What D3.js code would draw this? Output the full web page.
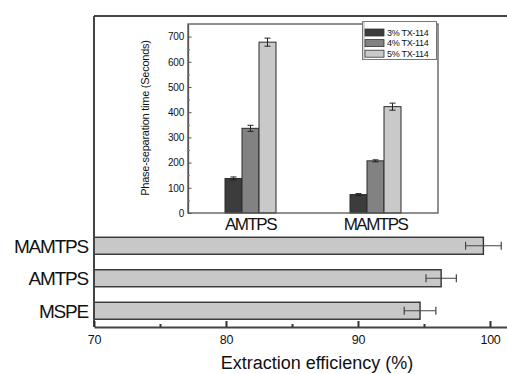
<!DOCTYPE html>
<html><head><meta charset="utf-8">
<script src="https://cdn.jsdelivr.net/npm/d3@7"></script>
<style>
html,body{margin:0;padding:0;background:#fff;}
svg{display:block;font-family:"Liberation Sans",Arial,sans-serif;}
</style></head>
<body><svg id="c" width="507" height="374"></svg>
<script>
// ---- Main chart data (horizontal bars) ----
const mainCategories = ["MSPE", "AMTPS", "MAMTPS"];
const mainValues = [94.7, 96.3, 99.5];
const mainErrors = [1.2, 1.15, 1.35];
const mainTicks = [70, 80, 90, 100];
const mainMinorTicks = [75, 85, 95];
const mainXLabel = "Extraction efficiency (%)";

// ---- Inset data (grouped vertical bars) ----
const insetGroups = ["AMTPS", "MAMTPS"];
const insetSeries = ["3% TX-114", "4% TX-114", "5% TX-114"];
const insetValues3 = [137, 73];
const insetValues4 = [336, 207];
const insetValues5 = [678, 422];
const insetErr3 = [6, 4];
const insetErr4 = [12, 4];
const insetErr5 = [16, 14];
const insetTicks = [0, 100, 200, 300, 400, 500, 600, 700];
const insetMinorTicks = [50, 150, 250, 350, 450, 550, 650];
const insetYLabel = "Phase-separation time (Seconds)";

const insetColors = ["#3c3c3c", "#828282", "#c9c9c9"];
const txt = "#111";
const svg = d3.select("#c");

// ===== Main chart =====
const x = d3.scaleLinear().domain([70, 102]).range([94, 516.4]);
const y = d3.scaleLinear().domain([0.5, 10.07]).range([327, 16]);
const barH = 17;

const mg = svg.append("g");
mainCategories.forEach((c, i) => {
  const cy = y(i + 1);
  mg.append("rect")
    .attr("x", x(70)).attr("y", cy - barH / 2)
    .attr("width", x(mainValues[i]) - x(70)).attr("height", barH)
    .attr("fill", "#c8c8c8").attr("stroke", "#333").attr("stroke-width", 1.4);
  const lo = x(mainValues[i] - mainErrors[i]), hi = x(mainValues[i] + mainErrors[i]);
  mg.append("line").attr("x1", lo).attr("x2", hi).attr("y1", cy).attr("y2", cy)
    .attr("stroke", "#444").attr("stroke-width", 1);
  [lo, hi].forEach(v => mg.append("line").attr("x1", v).attr("x2", v)
    .attr("y1", cy - 4).attr("y2", cy + 4).attr("stroke", "#444").attr("stroke-width", 1.2));
  mg.append("text").attr("x", 88).attr("y", cy).attr("dy", "0.36em")
    .attr("text-anchor", "end").attr("font-size", 19).attr("letter-spacing", "-1.2px")
    .attr("fill", txt).text(c);
});

svg.append("line").attr("x1", 94).attr("x2", 94).attr("y1", y(10.07)).attr("y2", 327)
  .attr("stroke", "#444").attr("stroke-width", 2);
svg.append("line").attr("x1", 94).attr("x2", 516).attr("y1", y(10.07)).attr("y2", y(10.07))
  .attr("stroke", "#444").attr("stroke-width", 2);

const xAxis = svg.append("g").attr("transform", "translate(0,327)")
  .call(d3.axisBottom(x).tickValues(mainTicks).tickSize(-6).tickPadding(8).tickSizeOuter(0));
xAxis.select(".domain").attr("stroke", "#444").attr("stroke-width", 2);
xAxis.selectAll(".tick line").attr("stroke", "#333").attr("stroke-width", 2);
xAxis.selectAll("text").attr("font-size", 12.5).attr("fill", txt)
  .attr("font-family", "'Liberation Sans',Arial,sans-serif").attr("letter-spacing", "-0.3px");
const xMinor = svg.append("g").attr("transform", "translate(0,327)")
  .call(d3.axisBottom(x).tickValues(mainMinorTicks).tickSize(-3).tickFormat(""));
xMinor.select(".domain").remove();
xMinor.selectAll(".tick line").attr("stroke", "#333").attr("stroke-width", 2);

svg.append("text").attr("x", 317).attr("y", 369).attr("text-anchor", "middle")
  .attr("font-size", 18).attr("fill", txt).text(mainXLabel);

// ===== Inset =====
const ix0 = d3.scaleBand().domain(insetGroups).range([188, 438]).paddingInner(0.592).paddingOuter(0.296);
const ix1 = d3.scaleBand().domain(insetSeries).range([0, ix0.bandwidth()]);
const iy = d3.scaleLinear().domain([0, 750]).range([213, 24]);

const ig = svg.append("g");
ig.append("rect").attr("x", 188).attr("y", 24).attr("width", 250).attr("height", 189)
  .attr("fill", "#fff").attr("stroke", "none");

const insetVals = [insetValues3, insetValues4, insetValues5];
const insetErrs = [insetErr3, insetErr4, insetErr5];
insetGroups.forEach((g, gi) => {
  insetSeries.forEach((s, si) => {
    const v = insetVals[si][gi], e = insetErrs[si][gi];
    const bx = ix0(g) + ix1(s), bw = ix1.bandwidth();
    ig.append("rect").attr("x", bx).attr("y", iy(v)).attr("width", bw)
      .attr("height", iy(0) - iy(v)).attr("fill", insetColors[si])
      .attr("stroke", "#2a2a2a").attr("stroke-width", 1);
    const cx = bx + bw / 2;
    ig.append("line").attr("x1", cx).attr("x2", cx).attr("y1", iy(v - e)).attr("y2", iy(v + e))
      .attr("stroke", "#222").attr("stroke-width", 1);
    [v - e, v + e].forEach(t => ig.append("line").attr("x1", cx - 3).attr("x2", cx + 3)
      .attr("y1", iy(t)).attr("y2", iy(t)).attr("stroke", "#222").attr("stroke-width", 1));
  });
});

ig.append("rect").attr("x", 188).attr("y", 24).attr("width", 250).attr("height", 189)
  .attr("fill", "none").attr("stroke", "#555").attr("stroke-width", 1.3);

const iyAxis = ig.append("g").attr("transform", "translate(188,0)")
  .call(d3.axisLeft(iy).tickValues(insetTicks).tickSize(-3.5).tickPadding(4).tickSizeOuter(0));
iyAxis.select(".domain").attr("stroke", "#555").attr("stroke-width", 1.3);
iyAxis.selectAll(".tick line").attr("stroke", "#555");
iyAxis.selectAll("text").attr("font-size", 10).attr("fill", txt)
  .attr("font-family", "'Liberation Sans',Arial,sans-serif").attr("letter-spacing", "-0.2px");
const iyMinor = ig.append("g").attr("transform", "translate(188,0)")
  .call(d3.axisLeft(iy).tickValues(insetMinorTicks).tickSize(-2).tickFormat(""));
iyMinor.select(".domain").remove();
iyMinor.selectAll(".tick line").attr("stroke", "#777");

const ixAxis = ig.append("g").attr("transform", "translate(0,213)")
  .call(d3.axisBottom(ix0).tickSize(0).tickPadding(5));
ixAxis.select(".domain").remove();
ixAxis.selectAll("text").attr("font-size", 17).attr("fill", txt).attr("letter-spacing", "-1.5px")
  .attr("font-family", "'Liberation Sans',Arial,sans-serif");

ig.append("text").attr("transform", "translate(149,118) rotate(-90)")
  .attr("text-anchor", "middle").attr("font-size", 11).attr("letter-spacing", "-0.25px")
  .attr("fill", txt).text(insetYLabel);

const lg = ig.append("g");
lg.append("rect").attr("x", 362.5).attr("y", 21.5).attr("width", 74).attr("height", 38)
  .attr("fill", "#fff").attr("stroke", "#777").attr("stroke-width", 1);
lg.append("line").attr("x1", 364).attr("x2", 364).attr("y1", 21.5).attr("y2", 59.5)
  .attr("stroke", "#aaa").attr("stroke-width", 1);
insetSeries.forEach((s, i) => {
  const ry = 29 + i * 10.6;
  lg.append("rect").attr("x", 365).attr("y", ry).attr("width", 19).attr("height", 7)
    .attr("fill", insetColors[i]).attr("stroke", "#333").attr("stroke-width", 0.8);
  lg.append("text").attr("x", 387).attr("y", ry + 3.5).attr("dy", "0.35em")
    .attr("font-size", 9).attr("letter-spacing", "-0.3px").attr("fill", txt).text(s);
});
</script>
</body></html>
